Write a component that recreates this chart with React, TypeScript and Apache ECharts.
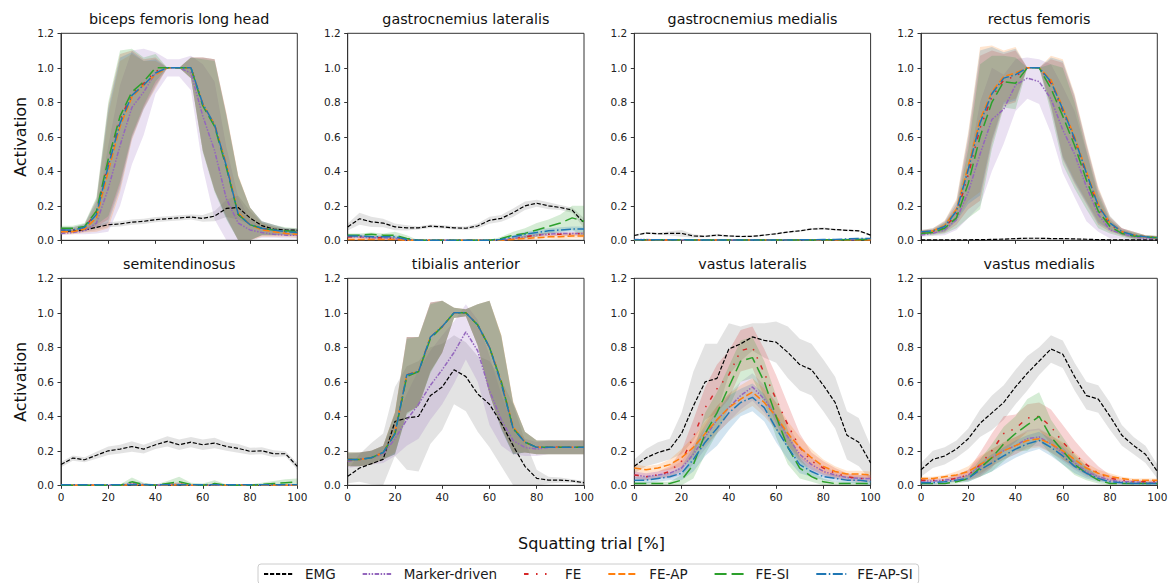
import React, { useEffect, useRef } from "react";
import * as echarts from "echarts";

// ---------- data ----------
const pct = [0, 5, 10, 15, 20, 25, 30, 35, 40, 45, 50, 55, 60, 65, 70, 75, 80, 85, 90, 95, 100];
const seriesNames = ["EMG", "Marker-driven", "FE", "FE-AP", "FE-SI", "FE-AP-SI"];
const panelTitles = [
  "biceps femoris long head", "gastrocnemius lateralis", "gastrocnemius medialis", "rectus femoris",
  "semitendinosus", "tibialis anterior", "vastus lateralis", "vastus medialis",
];
const yTickMax = 1.2;
const yTickStep = 0.2;
const xTickStep = 20;
const xAxisTitle = "Squatting trial [%]";
const yAxisTitle = "Activation";

// biceps femoris long head
const bflhEMG = [0.05, 0.055, 0.06, 0.075, 0.09, 0.095, 0.105, 0.11, 0.12, 0.125, 0.13, 0.135, 0.127, 0.14, 0.185, 0.19, 0.13, 0.085, 0.065, 0.06, 0.058];
const bflhEMGsd = [0.01, 0.01, 0.012, 0.015, 0.015, 0.015, 0.015, 0.015, 0.015, 0.015, 0.015, 0.015, 0.02, 0.03, 0.05, 0.07, 0.04, 0.02, 0.015, 0.01, 0.01];
const bflhMK = [0.04, 0.045, 0.055, 0.1, 0.3, 0.55, 0.77, 0.86, 0.97, 1.0, 1.0, 0.97, 0.72, 0.52, 0.24, 0.1, 0.06, 0.045, 0.035, 0.03, 0.03];
const bflhMKsd = [0.01, 0.01, 0.02, 0.06, 0.25, 0.35, 0.33, 0.25, 0.12, 0.05, 0.05, 0.1, 0.3, 0.4, 0.3, 0.15, 0.06, 0.03, 0.02, 0.02, 0.02];
const bflhFE = [0.06, 0.06, 0.075, 0.16, 0.45, 0.7, 0.85, 0.91, 0.98, 1.0, 1.0, 1.0, 0.79, 0.67, 0.43, 0.15, 0.09, 0.07, 0.06, 0.05, 0.045];
const bflhFEAP = [0.05, 0.05, 0.065, 0.13, 0.4, 0.66, 0.83, 0.9, 0.96, 1.0, 1.0, 1.0, 0.79, 0.67, 0.44, 0.16, 0.09, 0.06, 0.05, 0.04, 0.035];
const bflhFESI = [0.07, 0.07, 0.08, 0.17, 0.47, 0.72, 0.86, 0.92, 1.0, 1.0, 1.0, 1.0, 0.78, 0.66, 0.42, 0.15, 0.09, 0.07, 0.06, 0.055, 0.05];
const bflhFEAPSI = [0.06, 0.06, 0.075, 0.15, 0.43, 0.68, 0.84, 0.9, 0.97, 1.0, 1.0, 1.0, 0.79, 0.67, 0.43, 0.15, 0.09, 0.07, 0.06, 0.05, 0.045];
const bflhModelSd = [0.015, 0.015, 0.02, 0.08, 0.33, 0.38, 0.25, 0.14, 0.08, 0, 0, 0.06, 0.27, 0.38, 0.3, 0.22, 0.1, 0.04, 0.03, 0.02, 0.02];

// gastrocnemius lateralis
const glEMG = [0.077, 0.125, 0.107, 0.1, 0.078, 0.072, 0.072, 0.082, 0.078, 0.072, 0.07, 0.083, 0.116, 0.127, 0.16, 0.2, 0.215, 0.2, 0.19, 0.175, 0.1];
const glEMGsd = [0.02, 0.035, 0.03, 0.025, 0.02, 0.015, 0.01, 0.01, 0.01, 0.01, 0.01, 0.015, 0.02, 0.02, 0.025, 0.025, 0.02, 0.02, 0.015, 0.015, 0.03];
const glMK = [0.02, 0.02, 0.015, 0.015, 0.01, 0, 0, 0, 0, 0, 0, 0, 0, 0, 0.01, 0.02, 0.03, 0.035, 0.04, 0.04, 0.04];
const glMKsd = [0.01, 0.01, 0.01, 0.01, 0.01, 0, 0, 0, 0, 0, 0, 0, 0, 0, 0.005, 0.01, 0.01, 0.01, 0.01, 0.01, 0.01];
const glFE = [0.02, 0.02, 0.015, 0.015, 0.01, 0, 0, 0, 0, 0, 0, 0, 0, 0, 0.01, 0.02, 0.03, 0.035, 0.035, 0.035, 0.04];
const glFEsd = [0.01, 0.01, 0.01, 0.01, 0.01, 0, 0, 0, 0, 0, 0, 0, 0, 0, 0.005, 0.01, 0.01, 0.01, 0.01, 0.01, 0.01];
const glFEAP = [0.005, 0.005, 0.005, 0.005, 0.005, 0, 0, 0, 0, 0, 0, 0, 0, 0, 0.005, 0.01, 0.015, 0.02, 0.02, 0.025, 0.025];
const glFEAPsd = [0.005, 0.005, 0.005, 0.005, 0.005, 0, 0, 0, 0, 0, 0, 0, 0, 0, 0.005, 0.01, 0.01, 0.01, 0.015, 0.015, 0.015];
const glFESI = [0.03, 0.03, 0.035, 0.03, 0.03, 0.01, 0, 0, 0, 0, 0, 0, 0, 0.01, 0.03, 0.04, 0.06, 0.08, 0.1, 0.13, 0.11];
const glFESIsd = [0.01, 0.01, 0.01, 0.01, 0.02, 0.02, 0, 0, 0, 0, 0, 0, 0, 0.01, 0.02, 0.03, 0.04, 0.04, 0.05, 0.07, 0.09];
const glFEAPSI = [0.025, 0.025, 0.02, 0.02, 0.02, 0.005, 0, 0, 0, 0, 0, 0, 0, 0.005, 0.02, 0.035, 0.045, 0.055, 0.06, 0.065, 0.065];
const glFEAPSIsd = [0.01, 0.01, 0.01, 0.01, 0.01, 0.005, 0, 0, 0, 0, 0, 0, 0, 0.005, 0.01, 0.015, 0.015, 0.015, 0.015, 0.015, 0.015];

// gastrocnemius medialis
const gmEMG = [0.028, 0.042, 0.038, 0.04, 0.04, 0.025, 0.023, 0.03, 0.025, 0.022, 0.023, 0.03, 0.038, 0.048, 0.055, 0.065, 0.068, 0.062, 0.058, 0.055, 0.03];
const gmEMGsd = [0.005, 0.006, 0.006, 0.012, 0.02, 0.01, 0.005, 0.008, 0.005, 0.005, 0.005, 0.005, 0.005, 0.005, 0.005, 0.006, 0.007, 0.005, 0.005, 0.005, 0.005];
const gmMK = [0.004, 0.004, 0.003, 0.003, 0.002, 0.002, 0.002, 0.002, 0.002, 0.002, 0.002, 0.002, 0.002, 0.002, 0.002, 0.003, 0.003, 0.003, 0.003, 0.004, 0.004];
const gmFE = [0.003, 0.003, 0.003, 0.002, 0.002, 0.002, 0.002, 0.002, 0.002, 0.002, 0.002, 0.002, 0.002, 0.002, 0.002, 0.002, 0.003, 0.003, 0.003, 0.003, 0.003];
const gmFEAP = [0.002, 0.002, 0.002, 0.002, 0.002, 0.002, 0.002, 0.002, 0.002, 0.002, 0.002, 0.002, 0.002, 0.002, 0.002, 0.002, 0.002, 0.002, 0.002, 0.002, 0.002];
const gmFESI = [0.003, 0.003, 0.003, 0.003, 0.002, 0.002, 0.002, 0.002, 0.002, 0.002, 0.002, 0.002, 0.002, 0.002, 0.002, 0.002, 0.003, 0.003, 0.003, 0.004, 0.004];
const gmFEAPSI = [0.003, 0.003, 0.003, 0.003, 0.003, 0.002, 0.002, 0.002, 0.002, 0.002, 0.002, 0.002, 0.002, 0.002, 0.003, 0.003, 0.004, 0.005, 0.008, 0.01, 0.01];
const gmModelSd = [0.003, 0.003, 0.003, 0.003, 0.002, 0.002, 0.002, 0.002, 0.002, 0.002, 0.002, 0.002, 0.002, 0.002, 0.002, 0.003, 0.003, 0.003, 0.004, 0.005, 0.005];

// rectus femoris
const rfEMG = [0.002, 0.002, 0.003, 0.003, 0.003, 0.004, 0.005, 0.007, 0.01, 0.012, 0.012, 0.01, 0.01, 0.008, 0.006, 0.004, 0.003, 0.003, 0.002, 0.002, 0.002];
const rfEMGsd = [0.002, 0.002, 0.002, 0.002, 0.002, 0.002, 0.003, 0.003, 0.004, 0.004, 0.004, 0.004, 0.004, 0.003, 0.003, 0.002, 0.002, 0.002, 0.002, 0.002, 0.002];
const rfMK = [0.03, 0.04, 0.06, 0.12, 0.28, 0.5, 0.7, 0.76, 0.9, 0.94, 0.92, 0.82, 0.64, 0.5, 0.31, 0.15, 0.06, 0.04, 0.02, 0.01, 0.01];
const rfMKsd = [0.01, 0.015, 0.03, 0.06, 0.15, 0.3, 0.3, 0.2, 0.15, 0.12, 0.13, 0.2, 0.25, 0.25, 0.2, 0.1, 0.05, 0.03, 0.02, 0.01, 0.01];
const rfFE = [0.045, 0.05, 0.075, 0.15, 0.38, 0.65, 0.83, 0.93, 0.95, 1.0, 1.0, 0.91, 0.75, 0.58, 0.38, 0.19, 0.09, 0.05, 0.03, 0.02, 0.015];
const rfFEAP = [0.05, 0.055, 0.085, 0.18, 0.43, 0.7, 0.86, 0.95, 0.97, 1.0, 1.0, 0.93, 0.77, 0.6, 0.4, 0.21, 0.1, 0.05, 0.03, 0.02, 0.015];
const rfFESI = [0.04, 0.045, 0.07, 0.13, 0.33, 0.6, 0.8, 0.92, 0.91, 1.0, 1.0, 0.88, 0.72, 0.55, 0.35, 0.17, 0.08, 0.04, 0.025, 0.02, 0.015];
const rfFEAPSI = [0.05, 0.055, 0.08, 0.17, 0.41, 0.68, 0.85, 0.94, 0.96, 1.0, 1.0, 0.92, 0.76, 0.59, 0.39, 0.2, 0.1, 0.05, 0.03, 0.02, 0.015];
const rfModelSd = [0.01, 0.015, 0.03, 0.06, 0.2, 0.42, 0.27, 0.15, 0.15, 0, 0, 0.14, 0.28, 0.25, 0.17, 0.1, 0.04, 0.02, 0.02, 0.01, 0.01];

// semitendinosus
const stEMG = [0.12, 0.158, 0.148, 0.174, 0.2, 0.21, 0.225, 0.21, 0.235, 0.255, 0.235, 0.25, 0.235, 0.245, 0.225, 0.214, 0.197, 0.2, 0.183, 0.183, 0.11];
const stEMGsd = [0.015, 0.015, 0.015, 0.02, 0.025, 0.025, 0.03, 0.025, 0.025, 0.03, 0.03, 0.03, 0.03, 0.03, 0.025, 0.025, 0.02, 0.02, 0.02, 0.015, 0.02];
const stMK = [0, 0, 0, 0, 0, 0, 0.01, 0.004, 0, 0.005, 0.005, 0, 0, 0, 0, 0, 0, 0, 0, 0, 0];
const stMKsd = [0, 0, 0, 0, 0, 0.005, 0.015, 0.01, 0.005, 0.01, 0.01, 0, 0, 0, 0, 0, 0, 0, 0, 0, 0];
const stFE = [0, 0, 0, 0, 0, 0, 0.005, 0, 0, 0.003, 0.008, 0, 0, 0.005, 0, 0, 0, 0, 0, 0, 0];
const stFEsd = [0, 0, 0, 0, 0, 0, 0.01, 0.005, 0, 0.005, 0.01, 0, 0, 0.008, 0, 0, 0, 0, 0, 0, 0];
const stFEAP = [0, 0, 0, 0, 0, 0, 0.003, 0, 0, 0, 0.003, 0, 0, 0.002, 0, 0, 0, 0, 0, 0, 0];
const stFEAPsd = [0, 0, 0, 0, 0, 0, 0.005, 0, 0, 0, 0.005, 0, 0, 0.004, 0, 0, 0, 0, 0, 0, 0];
const stFESI = [0, 0, 0, 0, 0, 0, 0.02, 0.005, 0, 0.01, 0.02, 0.005, 0, 0.01, 0, 0, 0, 0.005, 0.01, 0.015, 0.02];
const stFESIsd = [0, 0, 0, 0, 0, 0.005, 0.025, 0.01, 0.005, 0.015, 0.03, 0.01, 0.01, 0.02, 0.005, 0.005, 0.005, 0.01, 0.015, 0.02, 0.02];
const stFEAPSI = [0.003, 0.003, 0.003, 0.003, 0.003, 0.003, 0.003, 0.003, 0.003, 0.003, 0.003, 0.003, 0.003, 0.003, 0.003, 0.003, 0.003, 0.003, 0.003, 0.003, 0.003];
const stFEAPSIsd = [0, 0, 0, 0, 0, 0, 0.003, 0, 0, 0, 0.003, 0, 0, 0, 0, 0, 0, 0, 0, 0, 0];

// tibialis anterior
const taEMG = [0.052, 0.1, 0.125, 0.15, 0.37, 0.39, 0.4, 0.52, 0.57, 0.67, 0.63, 0.53, 0.47, 0.36, 0.23, 0.11, 0.04, 0.03, 0.03, 0.025, 0.015];
const taEMGsd = [0.04, 0.08, 0.12, 0.15, 0.2, 0.3, 0.32, 0.28, 0.25, 0.2, 0.2, 0.22, 0.25, 0.25, 0.24, 0.15, 0.05, 0.02, 0.015, 0.01, 0.01];
const taMK = [0.14, 0.15, 0.16, 0.18, 0.27, 0.38, 0.47, 0.58, 0.67, 0.77, 0.89, 0.78, 0.55, 0.38, 0.26, 0.22, 0.21, 0.22, 0.22, 0.22, 0.22];
const taMKsd = [0.04, 0.04, 0.04, 0.05, 0.1, 0.15, 0.2, 0.2, 0.2, 0.18, 0.16, 0.18, 0.2, 0.15, 0.08, 0.05, 0.04, 0.04, 0.04, 0.04, 0.04];
const taFE = [0.15, 0.15, 0.16, 0.19, 0.3, 0.64, 0.66, 0.86, 0.92, 1.0, 1.0, 0.93, 0.8, 0.6, 0.33, 0.25, 0.22, 0.22, 0.22, 0.22, 0.22];
const taFEAP = [0.15, 0.15, 0.16, 0.19, 0.31, 0.64, 0.66, 0.86, 0.92, 1.0, 1.0, 0.93, 0.8, 0.6, 0.34, 0.25, 0.22, 0.22, 0.22, 0.22, 0.22];
const taFESI = [0.15, 0.15, 0.16, 0.19, 0.3, 0.63, 0.66, 0.85, 0.92, 1.0, 1.0, 0.93, 0.8, 0.6, 0.33, 0.25, 0.22, 0.22, 0.22, 0.22, 0.22];
const taFEAPSI = [0.15, 0.15, 0.16, 0.19, 0.3, 0.64, 0.66, 0.86, 0.92, 1.0, 1.0, 0.93, 0.8, 0.59, 0.33, 0.25, 0.22, 0.22, 0.22, 0.22, 0.22];
const taModelSd = [0.04, 0.04, 0.04, 0.04, 0.12, 0.22, 0.2, 0.2, 0.15, 0.03, 0.02, 0.12, 0.27, 0.27, 0.15, 0.06, 0.04, 0.04, 0.04, 0.04, 0.04];

// vastus lateralis
const vlEMG = [0.11, 0.16, 0.19, 0.21, 0.3, 0.46, 0.6, 0.62, 0.79, 0.82, 0.86, 0.84, 0.83, 0.77, 0.7, 0.67, 0.58, 0.48, 0.29, 0.25, 0.13];
const vlEMGsd = [0.04, 0.05, 0.06, 0.06, 0.12, 0.2, 0.22, 0.2, 0.15, 0.1, 0.08, 0.1, 0.12, 0.15, 0.15, 0.15, 0.15, 0.15, 0.14, 0.14, 0.1];
const vlMK = [0.06, 0.05, 0.06, 0.07, 0.1, 0.18, 0.28, 0.38, 0.45, 0.52, 0.57, 0.5, 0.4, 0.28, 0.18, 0.12, 0.08, 0.06, 0.045, 0.04, 0.04];
const vlMKsd = [0.02, 0.02, 0.02, 0.03, 0.04, 0.06, 0.07, 0.08, 0.08, 0.08, 0.08, 0.08, 0.08, 0.07, 0.05, 0.04, 0.03, 0.02, 0.02, 0.02, 0.02];
const vlFE = [0.06, 0.05, 0.06, 0.08, 0.14, 0.28, 0.45, 0.56, 0.64, 0.78, 0.8, 0.65, 0.5, 0.35, 0.22, 0.14, 0.1, 0.07, 0.05, 0.04, 0.04];
const vlFEsd = [0.02, 0.02, 0.02, 0.03, 0.06, 0.1, 0.12, 0.14, 0.14, 0.12, 0.12, 0.14, 0.14, 0.12, 0.08, 0.05, 0.04, 0.03, 0.02, 0.02, 0.02];
const vlFEAP = [0.1, 0.09, 0.1, 0.12, 0.16, 0.22, 0.3, 0.38, 0.45, 0.5, 0.54, 0.48, 0.4, 0.3, 0.22, 0.16, 0.11, 0.08, 0.065, 0.065, 0.06];
const vlFEAPsd = [0.02, 0.02, 0.02, 0.03, 0.05, 0.06, 0.07, 0.08, 0.08, 0.08, 0.08, 0.08, 0.08, 0.07, 0.06, 0.05, 0.04, 0.03, 0.02, 0.02, 0.02];
const vlFESI = [0.01, 0.01, 0.01, 0.01, 0.03, 0.12, 0.3, 0.42, 0.57, 0.72, 0.74, 0.6, 0.4, 0.22, 0.1, 0.05, 0.02, 0.01, 0.01, 0.01, 0.01];
const vlFESIsd = [0.01, 0.01, 0.01, 0.01, 0.03, 0.08, 0.12, 0.12, 0.12, 0.12, 0.12, 0.12, 0.12, 0.1, 0.06, 0.03, 0.02, 0.01, 0.01, 0.01, 0.01];
const vlFEAPSI = [0.03, 0.03, 0.04, 0.05, 0.07, 0.15, 0.25, 0.33, 0.42, 0.48, 0.51, 0.45, 0.33, 0.22, 0.12, 0.08, 0.05, 0.04, 0.03, 0.03, 0.02];
const vlFEAPSIsd = [0.02, 0.02, 0.02, 0.02, 0.04, 0.07, 0.08, 0.1, 0.1, 0.08, 0.08, 0.08, 0.08, 0.07, 0.05, 0.03, 0.02, 0.02, 0.02, 0.02, 0.02];

// vastus medialis
const vmEMG = [0.09, 0.15, 0.17, 0.21, 0.27, 0.36, 0.42, 0.48, 0.57, 0.65, 0.72, 0.79, 0.76, 0.63, 0.52, 0.5, 0.4, 0.29, 0.23, 0.18, 0.08];
const vmEMGsd = [0.04, 0.05, 0.05, 0.05, 0.06, 0.08, 0.1, 0.1, 0.1, 0.1, 0.08, 0.08, 0.08, 0.08, 0.08, 0.08, 0.08, 0.06, 0.05, 0.05, 0.04];
const vmMK = [0.025, 0.025, 0.03, 0.04, 0.06, 0.11, 0.16, 0.2, 0.23, 0.27, 0.28, 0.24, 0.19, 0.13, 0.08, 0.05, 0.03, 0.02, 0.02, 0.015, 0.015];
const vmMKsd = [0.01, 0.01, 0.01, 0.02, 0.03, 0.05, 0.05, 0.05, 0.05, 0.05, 0.05, 0.05, 0.05, 0.04, 0.03, 0.02, 0.02, 0.01, 0.01, 0.01, 0.01];
const vmFE = [0.03, 0.03, 0.03, 0.04, 0.06, 0.12, 0.2, 0.3, 0.33, 0.39, 0.4, 0.34, 0.25, 0.18, 0.12, 0.07, 0.04, 0.03, 0.02, 0.02, 0.02];
const vmFEsd = [0.01, 0.01, 0.01, 0.02, 0.03, 0.07, 0.1, 0.1, 0.08, 0.08, 0.08, 0.1, 0.1, 0.08, 0.06, 0.04, 0.02, 0.01, 0.01, 0.01, 0.01];
const vmFEAP = [0.04, 0.04, 0.05, 0.06, 0.08, 0.12, 0.16, 0.2, 0.23, 0.26, 0.27, 0.24, 0.2, 0.15, 0.1, 0.07, 0.05, 0.04, 0.03, 0.03, 0.03];
const vmFEAPsd = [0.01, 0.01, 0.01, 0.02, 0.03, 0.05, 0.05, 0.05, 0.05, 0.05, 0.05, 0.05, 0.05, 0.04, 0.03, 0.02, 0.02, 0.01, 0.01, 0.01, 0.01];
const vmFESI = [0.01, 0.01, 0.01, 0.02, 0.04, 0.1, 0.16, 0.24, 0.3, 0.35, 0.4, 0.28, 0.2, 0.12, 0.07, 0.03, 0.01, 0.01, 0.01, 0.01, 0.01];
const vmFESIsd = [0.005, 0.005, 0.005, 0.01, 0.02, 0.05, 0.08, 0.1, 0.1, 0.15, 0.14, 0.1, 0.08, 0.06, 0.04, 0.02, 0.01, 0.005, 0.005, 0.005, 0.005];
const vmFEAPSI = [0.015, 0.015, 0.02, 0.03, 0.04, 0.09, 0.13, 0.17, 0.21, 0.24, 0.26, 0.22, 0.17, 0.11, 0.07, 0.04, 0.02, 0.015, 0.01, 0.01, 0.01];
const vmFEAPSIsd = [0.01, 0.01, 0.01, 0.01, 0.02, 0.04, 0.05, 0.05, 0.05, 0.05, 0.05, 0.05, 0.05, 0.04, 0.03, 0.02, 0.01, 0.01, 0.01, 0.01, 0.01];

const panelMeans = [
  [bflhEMG, bflhMK, bflhFE, bflhFEAP, bflhFESI, bflhFEAPSI],
  [glEMG, glMK, glFE, glFEAP, glFESI, glFEAPSI],
  [gmEMG, gmMK, gmFE, gmFEAP, gmFESI, gmFEAPSI],
  [rfEMG, rfMK, rfFE, rfFEAP, rfFESI, rfFEAPSI],
  [stEMG, stMK, stFE, stFEAP, stFESI, stFEAPSI],
  [taEMG, taMK, taFE, taFEAP, taFESI, taFEAPSI],
  [vlEMG, vlMK, vlFE, vlFEAP, vlFESI, vlFEAPSI],
  [vmEMG, vmMK, vmFE, vmFEAP, vmFESI, vmFEAPSI],
];
const panelSds = [
  [bflhEMGsd, bflhMKsd, bflhModelSd, bflhModelSd, bflhModelSd, bflhModelSd],
  [glEMGsd, glMKsd, glFEsd, glFEAPsd, glFESIsd, glFEAPSIsd],
  [gmEMGsd, gmModelSd, gmModelSd, gmModelSd, gmModelSd, gmModelSd],
  [rfEMGsd, rfMKsd, rfModelSd, rfModelSd, rfModelSd, rfModelSd],
  [stEMGsd, stMKsd, stFEsd, stFEAPsd, stFESIsd, stFEAPSIsd],
  [taEMGsd, taMKsd, taModelSd, taModelSd, taModelSd, taModelSd],
  [vlEMGsd, vlMKsd, vlFEsd, vlFEAPsd, vlFESIsd, vlFEAPSIsd],
  [vmEMGsd, vmMKsd, vmFEsd, vmFEAPsd, vmFESIsd, vmFEAPSIsd],
];

// ---------- styles ----------
const FONT = "'DejaVu Sans', 'Noto Sans', sans-serif";
const lineColors = ["#000000", "#9467bd", "#d62728", "#ff7f0e", "#2ca02c", "#1f77b4"];
const bandColors = [
  "rgba(0,0,0,0.11)", "rgba(148,103,189,0.2)", "rgba(214,39,40,0.2)",
  "rgba(255,127,14,0.2)", "rgba(44,160,44,0.2)", "rgba(31,119,180,0.2)",
];
const lineDash = [
  [4.2, 1.8], [4.5, 1.5, 1.5, 1.5, 1.5, 1.5], [4.5, 7.5, 1.5, 7.5, 1.5, 7.5],
  [7, 3], [12, 5], [10, 2.5, 1.5, 2.5],
];
const lineWidths = [1.2, 1.5, 1.5, 1.5, 1.5, 1.5];
const gridLefts = [61, 347.7, 634.3, 921];
const gridTops = [33.3, 278.3];
const gridW = 236.3;
const gridH = 207;

function bandRenderItem(color: string) {
  return (params: any, api: any) => {
    if (params.dataIndexInside !== 0) return null;
    const n = params.dataInsideLength;
    const upper: number[][] = [];
    const lower: number[][] = [];
    for (let i = 0; i < n; i++) {
      const x = api.value(0, i);
      lower.push(api.coord([x, api.value(1, i)]));
      upper.push(api.coord([x, api.value(2, i)]));
    }
    const points = upper.concat(lower.reverse());
    return {
      type: "polygon",
      shape: { points },
      style: { fill: color, stroke: "none" },
      silent: true,
    };
  };
}

function buildOption() {
  const grid: any[] = [];
  const xAxis: any[] = [];
  const yAxis: any[] = [];
  const series: any[] = [];
  const graphic: any[] = [];
  const axisColor = "#333333";

  for (let p = 0; p < panelTitles.length; p++) {
    const row = Math.floor(p / 4);
    const col = p % 4;
    const left = gridLefts[col];
    const top = gridTops[row];
    grid.push({
      left, top, width: gridW, height: gridH, show: true,
      borderColor: axisColor, borderWidth: 1, backgroundColor: "transparent",
      outerBoundsMode: "none", containLabel: false,
    });
    xAxis.push({
      gridIndex: p, type: "value", min: 0, max: 100, interval: xTickStep,
      axisLine: { show: true, onZero: false, lineStyle: { color: axisColor, width: 1 } },
      axisTick: { show: true, length: 3.5, lineStyle: { color: axisColor } },
      axisLabel: { show: row === 1, fontFamily: FONT, fontSize: 10.5, color: "#222", margin: 6 },
      splitLine: { show: false },
    });
    yAxis.push({
      gridIndex: p, type: "value", min: 0, max: yTickMax, interval: yTickStep,
      axisLine: { show: true, onZero: false, lineStyle: { color: axisColor, width: 1 } },
      axisTick: { show: true, length: 3.5, lineStyle: { color: axisColor } },
      axisLabel: {
        fontFamily: FONT, fontSize: 10.5, color: "#222", margin: 7,
        formatter: (v: number) => v.toFixed(1),
      },
      splitLine: { show: false },
    });
    graphic.push({
      type: "text", x: left + gridW / 2, y: top - 14, silent: true,
      style: {
        text: panelTitles[p], fontFamily: FONT, fontSize: 14.3, fill: "#111",
        textAlign: "center", textVerticalAlign: "middle", align: "center", verticalAlign: "middle",
      },
    });
    if (col === 0) {
      graphic.push({
        type: "text", x: 20, y: top + gridH / 2, rotation: Math.PI / 2, silent: true,
        style: {
          text: yAxisTitle, fontFamily: FONT, fontSize: 16, fill: "#111",
          textAlign: "center", textVerticalAlign: "middle", align: "center", verticalAlign: "middle",
        },
      });
    }

    const means = panelMeans[p];
    const sds = panelSds[p];
    // bands (mean ± sd)
    for (let s = 0; s < seriesNames.length; s++) {
      const m = means[s];
      const sd = sds[s];
      series.push({
        type: "custom", name: `band-${p}-${s}`, xAxisIndex: p, yAxisIndex: p,
        data: pct.map((x, i) => [x, Math.max(0, m[i] - sd[i]), m[i] + sd[i]]),
        encode: { x: 0, y: [1, 2] },
        renderItem: bandRenderItem(bandColors[s]),
        clip: true, silent: true, z: 1,
      });
    }
    // mean lines
    for (let s = 0; s < seriesNames.length; s++) {
      series.push({
        type: "line", name: seriesNames[s], xAxisIndex: p, yAxisIndex: p,
        data: pct.map((x, i) => [x, means[s][i]]),
        symbol: "none", showSymbol: false, silent: true, z: 3,
        itemStyle: { color: lineColors[s] },
        lineStyle: { color: lineColors[s], width: lineWidths[s], type: lineDash[s] },
      });
    }
  }

  graphic.push({
    type: "text", x: 591.5, y: 543, silent: true,
    style: {
      text: xAxisTitle, fontFamily: FONT, fontSize: 16, fill: "#111",
      textAlign: "center", textVerticalAlign: "middle", align: "center", verticalAlign: "middle",
    },
  });

  return {
    animation: false,
    backgroundColor: "#ffffff",
    grid, xAxis, yAxis, series, graphic,
    legend: {
      data: seriesNames,
      left: 258, top: 564, orient: "horizontal",
      itemWidth: 30, itemHeight: 12, itemGap: 26,
      padding: [3, 6, 3, 5],
      borderColor: "#cccccc", borderWidth: 1, borderRadius: 3,
      backgroundColor: "#ffffff",
      selectedMode: false,
      itemStyle: { opacity: 0 },
      textStyle: { fontFamily: FONT, fontSize: 13.5, color: "#1a1a1a", padding: [0, 0, 0, 6] },
    },
  };
}

export default function App() {
  const ref = useRef<HTMLDivElement>(null);
  useEffect(() => {
    if (!ref.current) return;
    const chart = echarts.init(ref.current, undefined, { renderer: "svg" });
    chart.setOption(buildOption() as any);
    return () => chart.dispose();
  }, []);
  return (
    <div
      ref={ref}
      style={{ position: "fixed", left: 0, top: 0, width: 1169, height: 583, background: "#fff" }}
    />
  );
}
